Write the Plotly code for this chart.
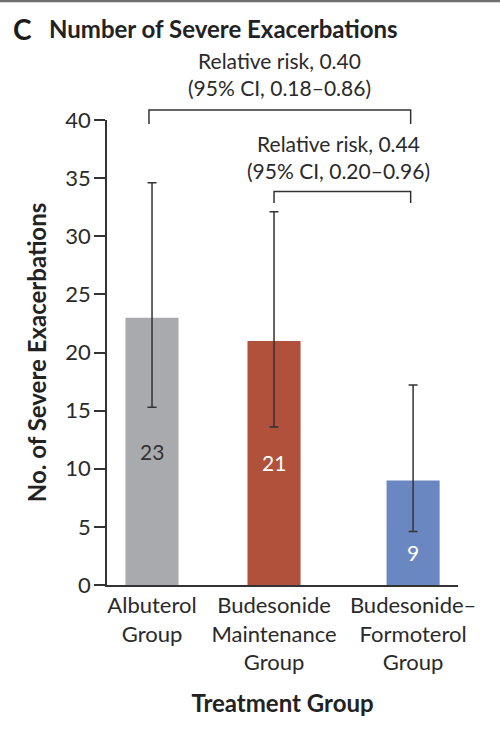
import plotly.graph_objects as go

# ---- data ----
categories = ["Albuterol Group", "Budesonide Maintenance Group", "Budesonide–Formoterol Group"]
tick_labels = ["Albuterol<br>Group", "Budesonide<br>Maintenance<br>Group", "Budesonide–<br>Formoterol<br>Group"]
counts = [23, 21, 9]
ci_upper = [34.6, 32.1, 17.2]
ci_lower = [15.3, 13.6, 4.6]
y_ticks = [0, 5, 10, 15, 20, 25, 30, 35, 40]
rr_texts = ["Relative risk, 0.40<br>(95% CI, 0.18–0.86)",
            "Relative risk, 0.44<br>(95% CI, 0.20–0.96)"]

# ---- layout / style ----
x_pos = [0, 1, 2.14]
X_RANGE = [-0.369, 2.508]
Y_RANGE = [0, 40]
bar_colors = ["#a9aaae", "#b0513b", "#6b87c1"]
label_colors = ["#333333", "#ffffff", "#ffffff"]
FONT = "Lato"
DARK = "#2a2a2a"
W, H = 500, 735
M = dict(l=107, r=42, t=120, b=150)
PW, PH = W - M["l"] - M["r"], H - M["t"] - M["b"]


def xp(x):  # data x -> paper
    return (x - X_RANGE[0]) / (X_RANGE[1] - X_RANGE[0])


def yp(y):  # data y -> paper
    return (y - Y_RANGE[0]) / (Y_RANGE[1] - Y_RANGE[0])


def px_x(px):  # pixel x -> paper
    return (px - M["l"]) / PW


def px_y(py):  # pixel y -> paper
    return (H - M["b"] - py) / PH


fig = go.Figure()
fig.add_trace(go.Bar(
    x=x_pos, y=counts, width=0.435,
    marker=dict(color=bar_colors, line=dict(width=0)),
    error_y=dict(type="data", symmetric=False,
                 array=[u - c for u, c in zip(ci_upper, counts)],
                 arrayminus=[c - l for l, c in zip(ci_lower, counts)],
                 color="#333333", thickness=1.5, width=4.5),
    hoverinfo="skip", showlegend=False,
))

annotations = []
# value labels inside bars
for xv, c, lo, col in zip(x_pos, counts, ci_lower, label_colors):
    ly = c / 2 if c / 2 < lo - 1 else lo * 0.6
    annotations.append(dict(x=xv, y=ly, xref="x", yref="y", text=str(c), showarrow=False,
                            font=dict(family=FONT, size=21, color=col)))

shapes = []
LINE = dict(color="#333333", width=1.5)
# bracket 1: Albuterol vs Budesonide-Formoterol
b1_y = yp(40.85)
b1_leg = yp(39.65)
x1a, x1b = xp(x_pos[0] - 0.025), xp(x_pos[2] - 0.02)
shapes.append(dict(type="path", xref="paper", yref="paper",
                   path=f"M {x1a},{b1_leg} L {x1a},{b1_y} L {x1b},{b1_y} L {x1b},{b1_leg}",
                   line=LINE))
# bracket 2: Budesonide maintenance vs Budesonide-Formoterol
b2_y = yp(ci_upper[1] + 1.75)
b2_leg = yp(ci_upper[1] + 0.75)
x2a, x2b = xp(x_pos[1]), xp(x_pos[2] - 0.02)
shapes.append(dict(type="path", xref="paper", yref="paper",
                   path=f"M {x2a},{b2_leg} L {x2a},{b2_y} L {x2b},{b2_y} L {x2b},{b2_leg}",
                   line=LINE))
# top rule
shapes.append(dict(type="line", xref="paper", yref="paper", x0=px_x(0), x1=px_x(W),
                   y0=px_y(1), y1=px_y(1), line=dict(color="#707070", width=2.5)))

annotations.append(dict(x=(x1a + x1b) / 2, y=b1_y, xref="paper", yref="paper",
                        text=rr_texts[0], showarrow=False, yanchor="bottom", yshift=8,
                        font=dict(family=FONT, size=21, color=DARK)))
annotations.append(dict(x=(x2a + x2b) / 2 - 0.012, y=b2_y, xref="paper", yref="paper",
                        text=rr_texts[1], showarrow=False, yanchor="bottom", yshift=6,
                        font=dict(family=FONT, size=21, color=DARK)))
# panel title
annotations.append(dict(x=px_x(11), y=px_y(29), xref="paper", yref="paper", text="<b>C</b>",
                        showarrow=False, xanchor="left", yanchor="middle",
                        font=dict(family=FONT, size=28, color="#1a1a1a")))
annotations.append(dict(x=px_x(47), y=px_y(29), xref="paper", yref="paper",
                        text="<b>Number of Severe Exacerbations</b>",
                        showarrow=False, xanchor="left", yanchor="middle",
                        font=dict(family=FONT, size=24, color="#222222")))

fig.update_layout(
    width=W, height=H, margin=M,
    paper_bgcolor="white", plot_bgcolor="white",
    font=dict(family=FONT, color=DARK),
    shapes=shapes, annotations=annotations,
)
fig.update_xaxes(
    range=X_RANGE, tickvals=x_pos, ticktext=tick_labels,
    showline=True, linecolor="#333333", linewidth=1.5, ticks="",
    showgrid=False, zeroline=False,
    tickfont=dict(family=FONT, size=22, color=DARK),
    title=dict(text="<b>Treatment Group</b>", font=dict(family=FONT, size=24, color="#222222"), standoff=21),
)
fig.update_yaxes(
    range=Y_RANGE, tickvals=y_ticks, showline=True, linecolor="#333333", linewidth=1.5,
    ticks="outside", ticklen=11, tickwidth=1.5, tickcolor="#333333",
    showgrid=False, zeroline=False, ticklabelstandoff=-1,
    tickfont=dict(family=FONT, size=22, color=DARK),
    title=dict(text="<b>No. of Severe Exacerbations</b>", font=dict(family=FONT, size=24, color="#222222"), standoff=12),
)

fig.write_html("out.html")
